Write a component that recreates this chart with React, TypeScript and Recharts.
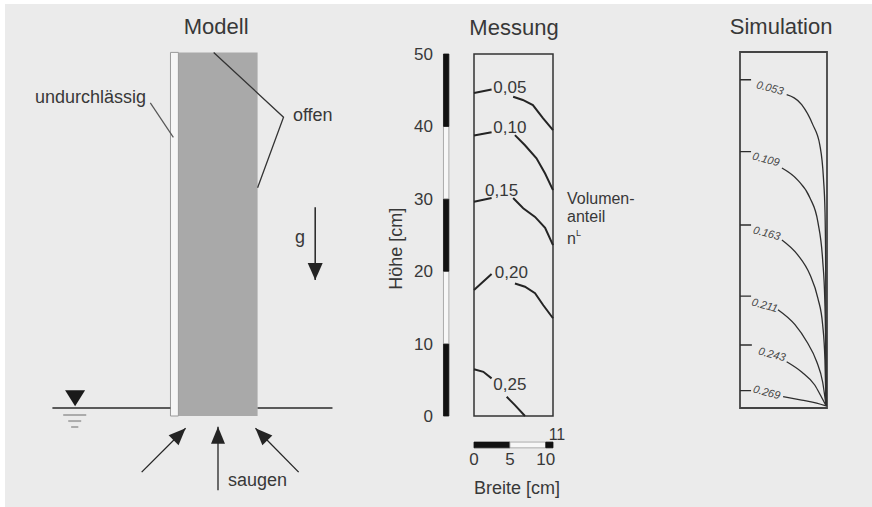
import { ComposedChart, Line, ReferenceArea, ReferenceDot, XAxis, YAxis } from "recharts";

/*
 * Column experiment: model sketch, measured water content, simulated contours.
 * All three panels share centimetres as data units; each panel is its own chart.
 */

const FONT = '"Liberation Sans", Arial, Helvetica, sans-serif';
const INK = "#383838";
const PEN = "#242424";

/* ---------- Modell (cm, origin = bottom left of the soil column) ---------- */

const COLUMN = { width: 11, height: 50.5, wall: 1.1 };
const WATER_LEFT = [{ x: -17.5, y: 1.1 }, { x: -1.1, y: 1.1 }];
const WATER_RIGHT = [{ x: 11, y: 1.1 }, { x: 21.4, y: 1.1 }];
const WATER_TABLE_MARK = { x: -14.35, y: 1.35 };
const WATER_DASHES = [
  [{ x: -16.0, y: 0.14 }, { x: -12.8, y: 0.14 }],
  [{ x: -15.3, y: -0.7 }, { x: -13.5, y: -0.7 }],
  [{ x: -14.9, y: -1.53 }, { x: -13.9, y: -1.53 }],
];
const LEADER_OFFEN = [{ x: 4.9, y: 50.5 }, { x: 14.6, y: 41.5 }, { x: 11, y: 31.7 }];
const LEADER_WALL = [{ x: -3.9, y: 43.5 }, { x: -0.7, y: 38.7 }];
const GRAVITY = [{ x: 19, y: 29 }, { x: 19, y: 18.9 }];
const SUCTION = [
  [{ x: -5.1, y: -7.8 }, { x: 1.0, y: -1.7 }],
  [{ x: 5.5, y: -10.3 }, { x: 5.5, y: -1.5 }],
  [{ x: 16.7, y: -7.8 }, { x: 10.7, y: -1.7 }],
];

/* ---------- Messung (Breite x Höhe in cm) ---------- */

const HEIGHT_TICKS = [0, 10, 20, 30, 40, 50];
const WIDTH_TICKS = [0, 5, 10];
const HEIGHT_BANDS = [
  { from: 0, to: 10, dark: true },
  { from: 10, to: 20, dark: false },
  { from: 20, to: 30, dark: true },
  { from: 30, to: 40, dark: false },
  { from: 40, to: 50, dark: true },
];
const WIDTH_BANDS = [
  { from: 0, to: 5, dark: true },
  { from: 5, to: 10, dark: false },
  { from: 10, to: 11, dark: true },
];
const GAP = (x: number) => ({ x, y: null });
const MESS_005 = [{ x: 0, y: 44.6 }, { x: 2.45, y: 45.1 }, GAP(4), { x: 5.45, y: 44.1 }, { x: 6.8, y: 43.65 }, { x: 8.2, y: 42.95 }, { x: 9.6, y: 41.15 }, { x: 11, y: 39.5 }];
const MESS_010 = [{ x: 0, y: 38.75 }, { x: 2.45, y: 39.2 }, GAP(4), { x: 5.7, y: 38.8 }, { x: 7.1, y: 37.4 }, { x: 8.7, y: 35.6 }, { x: 9.9, y: 33.5 }, { x: 11, y: 31.2 }];
const MESS_015 = [{ x: 0, y: 29.6 }, { x: 2.45, y: 30.1 }, GAP(4), { x: 5.45, y: 30.1 }, { x: 6.85, y: 28.7 }, { x: 8.5, y: 27.5 }, { x: 9.9, y: 26.0 }, { x: 11, y: 23.6 }];
const MESS_020 = [{ x: 0, y: 17.4 }, { x: 2.45, y: 19.6 }, GAP(4), { x: 5.7, y: 18.3 }, { x: 7.1, y: 17.85 }, { x: 8.5, y: 16.95 }, { x: 9.65, y: 15.3 }, { x: 11, y: 13.5 }];
const MESS_025 = [{ x: 0, y: 6.45 }, { x: 1.3, y: 6.1 }, { x: 2.45, y: 5.2 }, GAP(3.5), { x: 4.55, y: 2.65 }, { x: 5.7, y: 1.5 }, { x: 7.1, y: 0 }];
const MESS_LINES = [MESS_005, MESS_010, MESS_015, MESS_020, MESS_025];
const MESS_LABELS = ["0,05", "0,10", "0,15", "0,20", "0,25"];
const MESS_LABEL_AT = [
  { x: 5.0, y: 45.4 },
  { x: 5.0, y: 39.85 },
  { x: 3.85, y: 31.15 },
  { x: 5.2, y: 19.8 },
  { x: 5.0, y: 4.35 },
];

/* ---------- Simulation (cm) ---------- */

const SIM_053 = [{ x: 0, y: 46.1 }, { x: 1.4, y: 46.1 }, GAP(3), { x: 5.9, y: 44.0 }, { x: 7.8, y: 42.6 }, { x: 9.2, y: 39.8 }, { x: 10.1, y: 36.9 }, { x: 10.55, y: 32.3 }, { x: 10.75, y: 27.5 }, { x: 10.83, y: 20 }, { x: 10.86, y: 10 }, { x: 10.88, y: 0.3 }];
const SIM_109 = [{ x: 0, y: 36.0 }, { x: 1.4, y: 36.0 }, GAP(3), { x: 5.3, y: 33.7 }, { x: 7.3, y: 32.0 }, { x: 8.85, y: 29.5 }, { x: 9.85, y: 26.1 }, { x: 10.45, y: 20.8 }, { x: 10.72, y: 15.2 }, { x: 10.84, y: 8 }, { x: 10.88, y: 0.3 }];
const SIM_163 = [{ x: 0, y: 25.7 }, { x: 1.4, y: 25.7 }, GAP(3), { x: 5.3, y: 23.6 }, { x: 7.3, y: 21.5 }, { x: 8.85, y: 18.7 }, { x: 9.85, y: 15.4 }, { x: 10.45, y: 11.7 }, { x: 10.74, y: 6.7 }, { x: 10.88, y: 0.3 }];
const SIM_211 = [{ x: 0, y: 15.7 }, { x: 1.4, y: 15.7 }, GAP(3), { x: 4.8, y: 13.8 }, { x: 6.95, y: 11.7 }, { x: 8.45, y: 9.3 }, { x: 9.7, y: 6.5 }, { x: 10.45, y: 3.65 }, { x: 10.88, y: 0.3 }];
const SIM_243 = [{ x: 0, y: 8.85 }, { x: 1.5, y: 8.85 }, GAP(3), { x: 5.9, y: 6.5 }, { x: 7.8, y: 5.06 }, { x: 9.45, y: 3.23 }, { x: 10.2, y: 1.75 }, { x: 10.88, y: 0.3 }];
const SIM_269 = [{ x: 0, y: 2.43 }, { x: 1.4, y: 2.43 }, GAP(3), { x: 5.45, y: 1.6 }, { x: 7.8, y: 1.12 }, { x: 9.7, y: 0.7 }, { x: 10.88, y: 0.3 }];
const SIM_LINES = [SIM_053, SIM_109, SIM_163, SIM_211, SIM_243, SIM_269];
const SIM_LABELS = ["0.053", "0.109", "0.163", "0.211", "0.243", "0.269"];
const SIM_LABEL_AT = [
  { x: 3.8, y: 45.0 },
  { x: 3.3, y: 34.97 },
  { x: 3.4, y: 24.6 },
  { x: 3.15, y: 14.47 },
  { x: 4.05, y: 7.58 },
  { x: 3.4, y: 2.25 },
];

/* ---------- helpers ---------- */

type TextOpts = { size?: number; anchor?: "start" | "middle" | "end"; rotate?: number; italic?: boolean; fill?: string };

// text tied to a data position; drawn through a ReferenceDot so the axes place it
function note(key: string, x: number, y: number, text: React.ReactNode, o: TextOpts = {}) {
  const { size = 17, anchor = "middle", rotate = 0, italic = false, fill = INK } = o;
  return (
    <ReferenceDot
      key={key}
      x={x}
      y={y}
      r={0}
      ifOverflow="visible"
      shape={(p: any) => (
        <text
          x={p.cx}
          y={p.cy}
          fontSize={size}
          fontFamily={FONT}
          fill={fill}
          textAnchor={anchor}
          dominantBaseline="central"
          fontStyle={italic ? "italic" : "normal"}
          transform={rotate ? `rotate(${rotate} ${p.cx} ${p.cy})` : undefined}
        >
          {text}
        </text>
      )}
    />
  );
}

// screen heading of a segment (Modell axes share one px/cm scale)
function heading(a: { x: number; y: number }, b: { x: number; y: number }) {
  return Math.atan2(-(b.y - a.y), b.x - a.x);
}

function arrow(pts: { x: number; y: number }[]) {
  const [a, b] = pts;
  return [a, { ...b, head: heading(a, b) }];
}

function arrowDot(len: number, half: number) {
  return (p: any) => {
    const { cx, cy, payload, index } = p;
    if (!payload || payload.head == null) return <g key={`n${index}`} />;
    const ux = Math.cos(payload.head);
    const uy = Math.sin(payload.head);
    const bx = cx - ux * len;
    const by = cy - uy * len;
    const pts = `${cx},${cy} ${bx - uy * half},${by + ux * half} ${bx + uy * half},${by - ux * half}`;
    return <polygon key={`h${index}`} points={pts} fill={PEN} />;
  };
}

const segLine = (key: string, data: any[], stroke = PEN, width = 1.3, dot: any = false) => (
  <Line
    key={key}
    data={data}
    dataKey="y"
    type="linear"
    stroke={stroke}
    strokeWidth={width}
    dot={dot}
    activeDot={false}
    isAnimationActive={false}
  />
);

/* ---------- panels ---------- */

function ModellPanel() {
  return (
    <ComposedChart width={360} height={504} margin={{ top: 0, right: 0, bottom: 0, left: 0 }} style={{ position: "absolute", left: 2, top: 2 }}>
      <XAxis type="number" dataKey="x" domain={[-24.5, 25.5]} hide />
      <YAxis type="number" domain={[-12.5, 57.5]} hide />
      <ReferenceArea x1={0} x2={COLUMN.width} y1={0} y2={COLUMN.height} fill="#a9a9a9" fillOpacity={1} stroke="none" />
      <ReferenceArea x1={-COLUMN.wall} x2={0} y1={0} y2={COLUMN.height} fill="#f6f6f6" fillOpacity={1} stroke="#9a9a9a" strokeWidth={1} />
      {segLine("wl", WATER_LEFT, "#5a5a5a", 2)}
      {segLine("wr", WATER_RIGHT, "#5a5a5a", 2)}
      {WATER_DASHES.map((d, i) => segLine(`wd${i}`, d, "#ababab", 2))}
      {segLine("lo", LEADER_OFFEN, "#333", 1.3)}
      {segLine("lw", LEADER_WALL, "#555", 1.2)}
      {segLine("g", arrow(GRAVITY), PEN, 1.5, arrowDot(17, 7.5))}
      {SUCTION.map((s, i) => segLine(`s${i}`, arrow(s), PEN, 1.3, arrowDot(17, 7)))}
      <ReferenceDot
        x={WATER_TABLE_MARK.x}
        y={WATER_TABLE_MARK.y}
        r={0}
        ifOverflow="visible"
        shape={(p: any) => (
          <polygon points={`${p.cx - 10},${p.cy - 16} ${p.cx + 10},${p.cy - 16} ${p.cx},${p.cy}`} fill="#1a1a1a" />
        )}
      />
      {note("t", 5.25, 54.1, "Modell", { size: 22 })}
      {note("u", -4.5, 44.25, "undurchlässig", { size: 18, anchor: "end" })}
      {note("o", 15.9, 41.8, "offen", { size: 18, anchor: "start" })}
      {note("gl", 16.9, 24.9, "g", { size: 18 })}
      {note("sa", 6.9, -8.95, "saugen", { size: 18, anchor: "start" })}
    </ComposedChart>
  );
}

function MessungPanel() {
  return (
    <ComposedChart width={350} height={507} margin={{ top: 54, right: 97, bottom: 6, left: 80 }} style={{ position: "absolute", left: 300, top: 0 }}>
      <XAxis
        type="number"
        dataKey="x"
        domain={[0, 11]}
        ticks={WIDTH_TICKS}
        height={85}
        axisLine={false}
        tickLine={false}
        tickSize={0}
        tickMargin={37}
        tick={{ fontSize: 17, fill: INK, fontFamily: FONT }}
      />
      <YAxis
        type="number"
        domain={[0, 50]}
        ticks={HEIGHT_TICKS}
        width={94}
        axisLine={false}
        tickLine={false}
        tickSize={0}
        tickMargin={41}
        tick={{ fontSize: 17, fill: INK, fontFamily: FONT }}
      />
      {HEIGHT_BANDS.map((b) => (
        <ReferenceArea
          key={`hb${b.from}`}
          x1={-4.25}
          x2={-3.5}
          y1={b.from}
          y2={b.to}
          ifOverflow="visible"
          fill={b.dark ? "#111" : "#f7f7f7"}
          fillOpacity={1}
          stroke={b.dark ? "#111" : "#9a9a9a"}
          strokeWidth={0.8}
        />
      ))}
      {WIDTH_BANDS.map((b) => (
        <ReferenceArea
          key={`wb${b.from}`}
          x1={b.from}
          x2={b.to}
          y1={-4.4}
          y2={-3.6}
          ifOverflow="visible"
          fill={b.dark ? "#111" : "#f7f7f7"}
          fillOpacity={1}
          stroke={b.dark ? "#111" : "#9a9a9a"}
          strokeWidth={0.8}
        />
      ))}
      <ReferenceArea x1={0} x2={11} y1={0} y2={50} fill="none" stroke="#333" strokeWidth={1.5} />
      {MESS_LINES.map((d, i) => segLine(`m${i}`, d, PEN, 2))}
      {MESS_LABELS.map((t, i) => note(`ml${i}`, MESS_LABEL_AT[i].x, MESS_LABEL_AT[i].y, t, { size: 17 }))}
      {note("t", 5.57, 53.66, "Messung", { size: 22 })}
      {note("h", -10.86, 23.1, "Höhe [cm]", { size: 18, rotate: -90 })}
      {note("b", 6.0, -10.0, "Breite [cm]", { size: 18 })}
      {note("11", 11.55, -2.5, "11", { size: 16 })}
      {note("v1", 12.95, 30.0, "Volumen-", { size: 16, anchor: "start" })}
      {note("v2", 12.95, 27.6, "anteil", { size: 16, anchor: "start" })}
      {note(
        "v3",
        12.95,
        24.45,
        <>
          n
          <tspan fontSize={9} dy={-6}>
            L
          </tspan>
        </>,
        { size: 16, anchor: "start" }
      )}
    </ComposedChart>
  );
}

function SimulationPanel() {
  return (
    <ComposedChart width={182} height={507} margin={{ top: 52, right: 45, bottom: 99, left: 50 }} style={{ position: "absolute", left: 690, top: 0 }}>
      <XAxis type="number" dataKey="x" domain={[0, 11]} hide />
      <YAxis type="number" domain={[0, 50]} hide />
      <ReferenceArea x1={0} x2={11} y1={0} y2={50} fill="none" stroke="#444" strokeWidth={1.8} />
      {SIM_LINES.map((d, i) => (
        <Line
          key={`s${i}`}
          data={d}
          dataKey="y"
          type="monotone"
          stroke="#2e2e2e"
          strokeWidth={1.3}
          dot={false}
          activeDot={false}
          isAnimationActive={false}
        />
      ))}
      {SIM_LABELS.map((t, i) => note(`sl${i}`, SIM_LABEL_AT[i].x, SIM_LABEL_AT[i].y, t, { size: 11, italic: true, rotate: 15, fill: "#444" }))}
      {note("t", 5.2, 53.6, "Simulation", { size: 22 })}
    </ComposedChart>
  );
}

export default function App() {
  return (
    <div style={{ position: "absolute", left: 0, top: 0, width: 872, height: 507, background: "#fff", overflow: "hidden" }}>
      <div style={{ position: "absolute", left: 5, top: 4, right: 0, bottom: 0, background: "#ebebeb" }} />
      <ModellPanel />
      <MessungPanel />
      <SimulationPanel />
    </div>
  );
}
